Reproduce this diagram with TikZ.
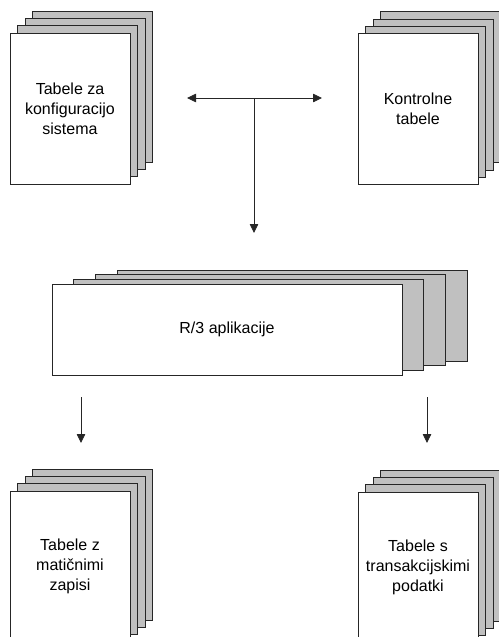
\documentclass[tikz,border=0pt]{standalone}
\usepackage{fontspec}
\setmainfont{Liberation Sans}
\usetikzlibrary{arrows.meta}
\definecolor{pggray}{RGB}{192,192,192}
\tikzset{
  pg/.style={rectangle,draw=black!85,fill=white,line width=.8pt,inner sep=0pt,
    minimum width=120pt,minimum height=151pt,align=center,font=\fontsize{16}{20}\selectfont},
  pgb/.style={pg,fill=pggray},
  app/.style={pg,minimum width=350pt,minimum height=91pt},
  appb/.style={app,fill=pggray},
  arr/.style={-{Triangle[length=9pt,width=8.5pt]},line width=.8pt,draw=black!85},
}
\begin{document}
\begin{tikzpicture}[x=1pt,y=-1pt]
\useasboundingbox (0,0) rectangle (498,637);
% back pages of the four table stacks
\foreach \x/\y in {70/108.5, 418/109, 70/566.5, 418/567.5}
  \foreach \k in {3,2,1}
    \node[pgb] at (\x+\k*7.5,\y-\k*7.3) {};
% back pages of the application stack
\foreach \k in {3,2,1}
  \node[appb] at (227+\k*21.8,329.5-\k*4.7) {};
% front pages
\node[pg] (cfg) at (70,108.5) {Tabele za\\konfiguracijo\\sistema};
\node[pg] (ctl) at (418,109) {Kontrolne\\tabele};
\node[app] (r3) at (227,329.5) {R/3 aplikacije};
\node[pg] (mst) at (70,566.5) {Tabele z\\matičnimi\\zapisi};
\node[pg] (trn) at (418,567.5) {Tabele s\\transakcijskimi\\podatki};
% connectors
\coordinate (jn) at (254,98);
\coordinate (jl) at (187,98);
\coordinate (jr) at (322,98);
\coordinate (jd) at (254,233);
\draw[arr] (jn) -- (jl);
\draw[arr] (jn) -- (jr);
\draw[arr] (jn) -- (jd);
\coordinate (ml) at (81,397);
\coordinate (mr) at (81,443);
\coordinate (tl) at (427,397);
\coordinate (tr) at (427,443);
\draw[arr] (ml) -- (mr);
\draw[arr] (tl) -- (tr);
\end{tikzpicture}
\end{document}
